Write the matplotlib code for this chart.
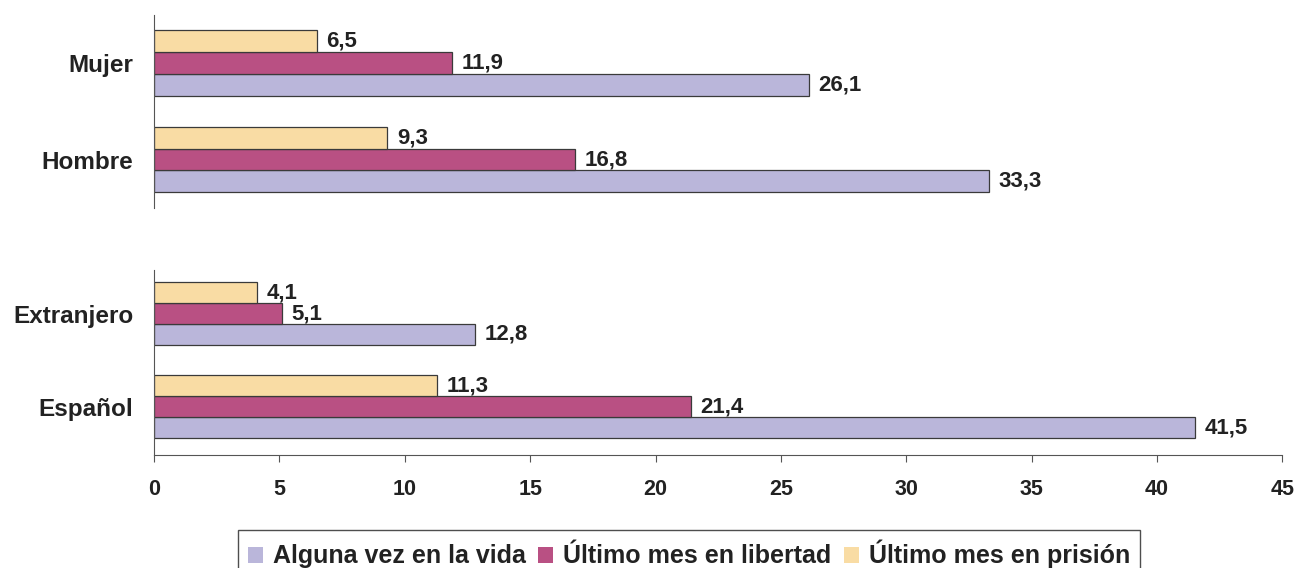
import matplotlib.pyplot as plt
from matplotlib.patches import Patch

plt.rcParams['font.family'] = ['Liberation Sans', 'DejaVu Sans']
plt.rcParams['font.weight'] = 'bold'

# data
top_groups = ['Hombre', 'Mujer']
bottom_groups = ['Español', 'Extranjero']
series = ['Alguna vez en la vida', 'Último mes en libertad', 'Último mes en prisión']
colors = ['#BAB6DA', '#B95083', '#F9DCA4']

top_vida = [33.3, 26.1]
top_libertad = [16.8, 11.9]
top_prision = [9.3, 6.5]

bottom_vida = [41.5, 12.8]
bottom_libertad = [21.4, 5.1]
bottom_prision = [11.3, 4.1]

x_ticks = [0, 5, 10, 15, 20, 25, 30, 35, 40, 45]

fig = plt.figure(figsize=(13, 5.68), dpi=100)
ax_top = fig.add_axes([0.1185, 0.634, 0.868, 0.340])
ax_bot = fig.add_axes([0.1185, 0.199, 0.868, 0.326])

h = 0.225
offsets = [-h, 0, h]


def fmt(v):
    return f'{v:.1f}'.replace('.', ',')


def draw(ax, groups, vals):
    for off, col, data in zip(offsets, colors, vals):
        ys = [i + off for i in range(len(groups))]
        ax.barh(ys, data, height=h, color=col, edgecolor='#3a3a3a', linewidth=0.9)
        for y, v in zip(ys, data):
            ax.text(v + 0.38, y, fmt(v), va='center', ha='left', fontsize=16,
                    fontweight='bold', color='#222222')
    ax.set_yticks(range(len(groups)))
    ax.set_yticklabels(groups, fontsize=17.5, fontweight='bold', color='#222222')
    ax.tick_params(axis='y', length=0, pad=15)
    ax.set_xlim(0, 45)
    for s in ['top', 'right']:
        ax.spines[s].set_visible(False)
    ax.spines['left'].set_color('#555555')
    ax.spines['bottom'].set_color('#555555')


draw(ax_top, top_groups, [top_vida, top_libertad, top_prision])
ax_top.set_ylim(-0.5, 1.5)
ax_top.spines['bottom'].set_visible(False)
ax_top.set_xticks([])

draw(ax_bot, bottom_groups, [bottom_vida, bottom_libertad, bottom_prision])
ax_bot.set_ylim(-0.52, 1.47)
ax_bot.set_xticks(x_ticks)
ax_bot.set_xticklabels([str(t) for t in x_ticks], fontsize=15.5, fontweight='bold', color='#222222')
ax_bot.tick_params(axis='x', direction='out', length=5, color='#555555', pad=12)

handles = [Patch(facecolor=c, edgecolor='none') for c in colors]
leg = fig.legend(handles, series, loc='upper center', bbox_to_anchor=(0.530, 0.067), ncol=3,
                 frameon=True, fancybox=False, edgecolor='#222222',
                 handlelength=0.6, handleheight=0.6, handletextpad=0.4, columnspacing=0.5,
                 borderpad=0.4, borderaxespad=0, prop={'weight': 'bold', 'size': 18})
leg.get_frame().set_linewidth(1.0)
for t in leg.get_texts():
    t.set_color('#222222')

fig.savefig('out.png', dpi=100)
